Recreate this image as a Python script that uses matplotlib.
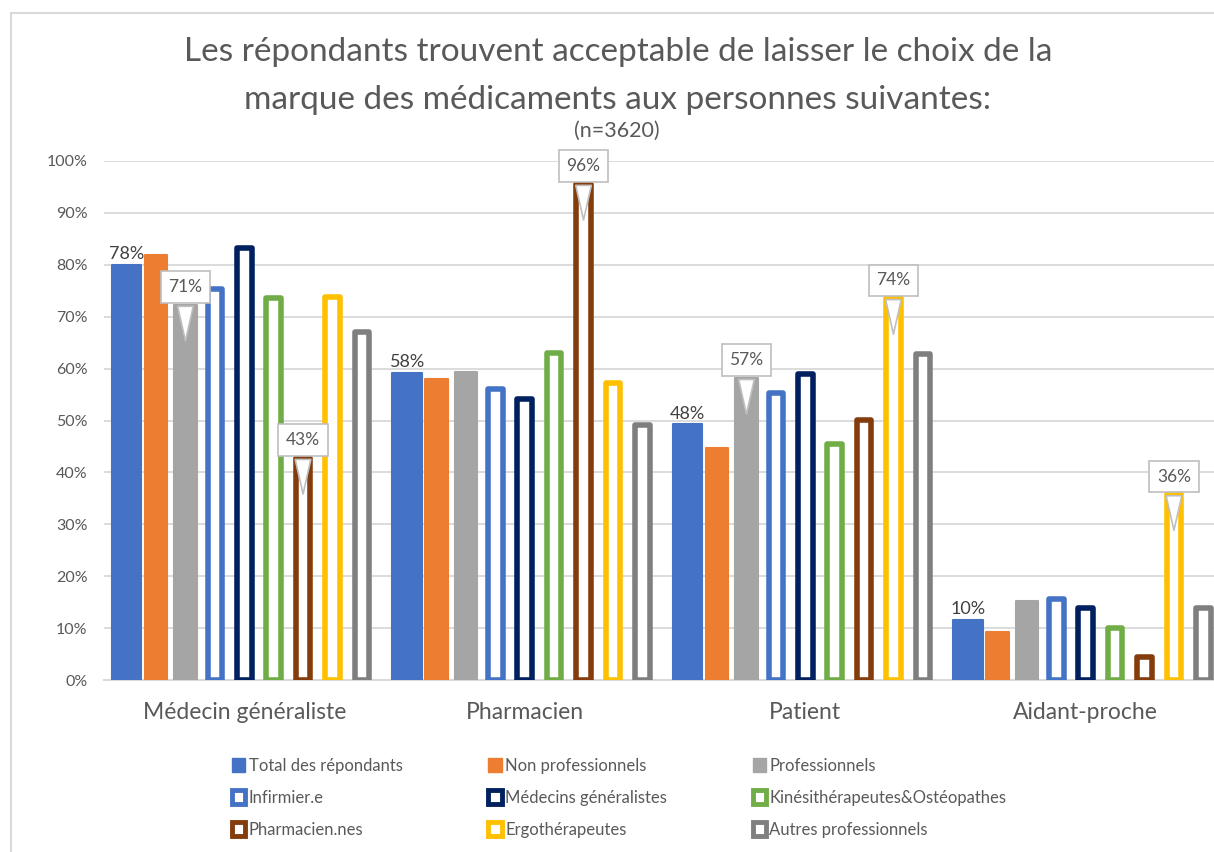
import matplotlib
matplotlib.use("Agg")
import matplotlib.pyplot as plt
from matplotlib.patches import Patch, Rectangle
import numpy as np

plt.rcParams["font.family"] = ["Lato", "DejaVu Sans"]

categories = ["Médecin généraliste", "Pharmacien", "Patient", "Aidant-proche"]
series = [
    "Total des répondants", "Non professionnels", "Professionnels",
    "Infirmier.e", "Médecins généralistes", "Kinésithérapeutes&Ostéopathes",
    "Pharmacien.nes", "Ergothérapeutes", "Autres professionnels",
]
colors = ["#4472C4", "#ED7D31", "#A5A5A5", "#4472C4", "#002060",
          "#70AD47", "#843C0C", "#FFC000", "#7F7F7F"]
hollow = [False, False, False, True, True, True, True, True, True]

values = [
    [80.0, 59.2, 49.3, 11.6],   # Total
    [81.9, 58.0, 44.7, 9.2],    # Non pro
    [72.3, 59.3, 58.2, 15.2],   # Pro
    [75.3, 56.1, 55.3, 15.6],   # Infirmier.e
    [83.2, 54.1, 59.0, 13.9],   # Médecins
    [73.6, 63.0, 45.5, 10.0],   # Kiné
    [42.8, 95.6, 50.1, 4.4],    # Pharmacien.nes
    [73.8, 57.2, 73.6, 35.8],   # Ergo
    [67.0, 49.1, 62.8, 13.9],   # Autres
]

# plain labels on the total bars
total_labels = ["78%", "58%", "48%", "10%"]
# callouts: (series index, category index, text)
callouts = [(2, 0, "71%"), (6, 0, "43%"), (6, 1, "96%"),
            (2, 2, "57%"), (7, 2, "74%"), (7, 3, "36%")]

title_lines = ["Les répondants trouvent acceptable de laisser le choix de la",
               "marque des médicaments aux personnes suivantes:"]

W, H = 1214, 852
fig = plt.figure(figsize=(W / 100, H / 100), dpi=100)
ax = fig.add_axes([104 / W, 1 - 680 / H, (1226 - 104) / W, 519 / H])

x = np.arange(len(categories))
pitch = 0.1048
text_col = "#595959"

for j, (name, col, vals) in enumerate(zip(series, colors, values)):
    pos = x + (j - 4) * pitch
    if hollow[j]:
        ax.bar(pos, vals, 0.052, facecolor="white", edgecolor=col,
               linewidth=4.0, joinstyle="round", zorder=3)
    else:
        w = 0.105 if j == 0 else 0.08
        ax.bar(pos, vals, w, color=col, edgecolor=col, linewidth=1.5,
               joinstyle="round", zorder=3)

for i, lab in enumerate(total_labels):
    ax.text(x[i] - 4 * pitch, values[0][i] + 0.5, lab, ha="center", va="bottom",
            fontsize=13, color="#404040", zorder=5)

for j, i, lab in callouts:
    px = x[i] + (j - 4) * pitch
    top = values[j][i]
    ax.annotate(lab, xy=(px, top - 7.5), xytext=(px, top + 3.4),
                ha="center", va="center", fontsize=12.5, color=text_col, zorder=6,
                bbox=dict(boxstyle="square,pad=0.45", fc="white", ec="#BFBFBF", lw=1.2),
                arrowprops=dict(arrowstyle="wedge,tail_width=0.9,shrink_factor=0.5",
                                fc="white", ec="#BFBFBF", lw=1.2))

ax.set_xlim(-0.5, 3.5)
ax.set_ylim(0, 100)
ax.set_yticks(np.arange(0, 101, 10))
ax.yaxis.set_major_formatter(plt.FuncFormatter(lambda v, _: f"{v:.0f}%"))
ax.set_xticks(x)
ax.set_xticklabels(categories, fontsize=16.5, color=text_col)
ax.tick_params(axis="x", length=0, pad=16)
ax.tick_params(axis="y", length=0, pad=12, labelsize=11.5, labelcolor=text_col)
ax.grid(axis="y", color="#D9D9D9", linewidth=1.3, zorder=0)
ax.set_axisbelow(True)
for s in ["top", "right", "left"]:
    ax.spines[s].set_visible(False)
ax.spines["bottom"].set_color("#D9D9D9")
ax.spines["bottom"].set_linewidth(1.5)

fig.text(618 / W, 1 - 52 / H, title_lines[0], ha="center", va="center",
         fontsize=24, color=text_col)
fig.text(618 / W, 1 - 100 / H, title_lines[1], ha="center", va="center",
         fontsize=24, color=text_col)
fig.text(617 / W, 1 - 131 / H, "(n=3620)", ha="center", va="center",
         fontsize=15.5, color=text_col)

handles = []
for j in range(len(series)):
    if hollow[j]:
        handles.append(Patch(facecolor="white", edgecolor=colors[j], linewidth=3.5, label=series[j]))
    else:
        handles.append(Patch(facecolor=colors[j], edgecolor=colors[j], label=series[j]))
order = [0, 3, 6, 1, 4, 7, 2, 5, 8]
fig.legend([handles[k] for k in order], [series[k] for k in order],
           ncol=3, loc="upper left", bbox_to_anchor=(217 / W, 1 - 743 / H),
           frameon=False, fontsize=12, handlelength=0.8, handleheight=0.95,
           handletextpad=0.2, columnspacing=5.15, labelspacing=0.95,
           labelcolor=text_col)

fig.patches.append(Rectangle((11 / W, -0.1), 1.2, 1 - 13 / H + 0.1, transform=fig.transFigure,
                             fill=False, ec="#D9D9D9", lw=1.5, figure=fig))

fig.savefig("out.png", dpi=100)
